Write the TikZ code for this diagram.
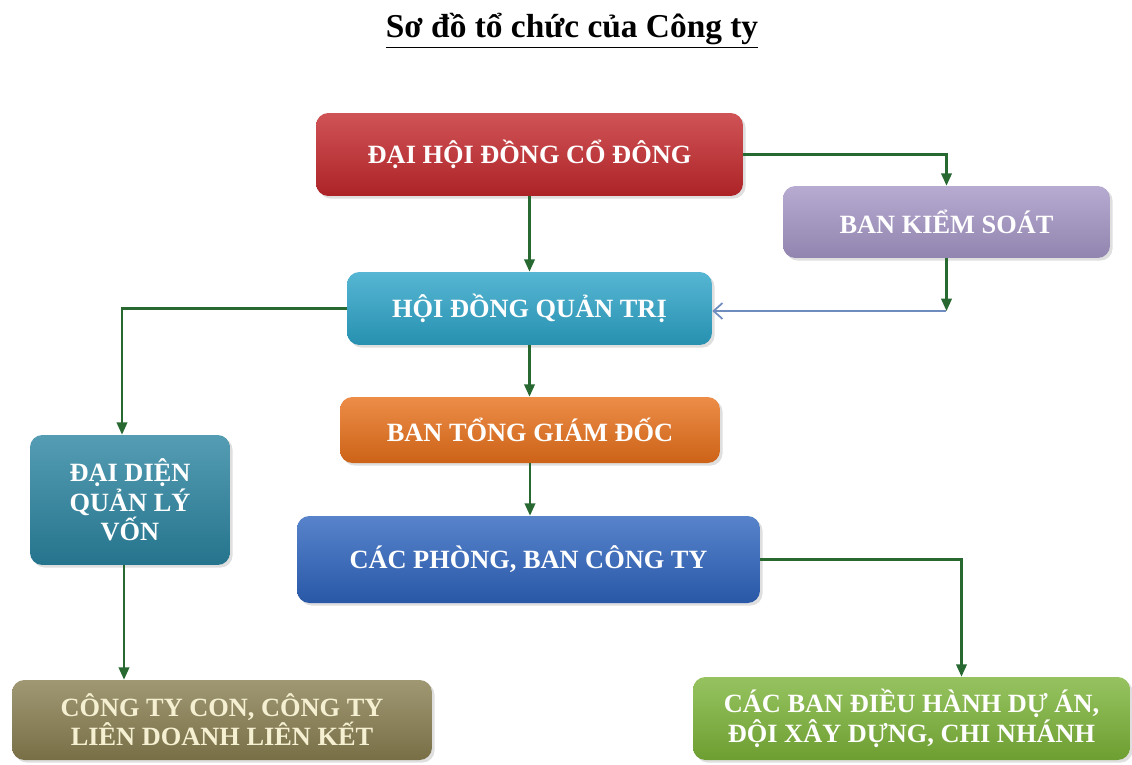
\documentclass[tikz,border=0pt]{standalone}
\usepackage{fontspec}
\setmainfont{Liberation Serif}
\usetikzlibrary{arrows.meta,shadows}
\definecolor{dhred}{RGB}{196,40,44}
\definecolor{ksviolet}{RGB}{165,150,198}
\definecolor{qtcyan}{RGB}{44,164,200}
\definecolor{tgorange}{RGB}{232,112,26}
\definecolor{vonteal}{RGB}{42,132,160}
\definecolor{pbblue}{RGB}{46,100,190}
\definecolor{ctolive}{RGB}{136,126,80}
\definecolor{dagreen}{RGB}{124,180,56}
\definecolor{arrowgreen}{RGB}{40,105,50}
\definecolor{linkblue}{RGB}{110,140,190}
\definecolor{cream}{RGB}{246,240,210}

\begin{document}
\begin{tikzpicture}[x=0.02cm,y=-0.02cm,
    box/.style={rounded corners=7pt, top color=#1!80!white, bottom color=#1!88!black,
        text=white, align=center, inner sep=2pt,
        font=\bfseries\fontsize{15}{15}\selectfont,
        drop shadow={opacity=0.25,shadow xshift=1.5pt,shadow yshift=-1.5pt}},
    link/.style={draw=arrowgreen, line width=1.2pt, -{Triangle[width=6pt,length=7pt]}},
    backlink/.style={draw=linkblue, line width=1pt, -{Straight Barb[width=9pt,length=5pt]}}]
    \useasboundingbox (0,0) rectangle (1132,764);
    % tieu de
    \node[font=\bfseries\fontsize{19}{22}\selectfont] (tieude) at (572,31) {\underline{Sơ đồ tổ chức của Công ty}};
    % cac khoi
    \node[box=dhred, minimum width=8.54cm, minimum height=1.66cm] (dhdcd) at (529.5,154.5) {ĐẠI HỘI ĐỒNG CỔ ĐÔNG};
    \node[box=ksviolet, minimum width=6.54cm, minimum height=1.44cm] (bks) at (946.5,222) {BAN KIỂM SOÁT};
    \node[box=qtcyan, minimum width=7.3cm, minimum height=1.46cm] (hdqt) at (529.5,308.5) {HỘI ĐỒNG QUẢN TRỊ};
    \node[box=tgorange, minimum width=7.6cm, minimum height=1.32cm] (btgd) at (530,430) {BAN TỔNG GIÁM ĐỐC};
    \node[box=vonteal, font=\bfseries\fontsize{15}{13.8}\selectfont, minimum width=4cm, minimum height=2.6cm] (ddqlv) at (130,500) {ĐẠI DIỆN\\QUẢN LÝ\\VỐN};
    \node[box=pbblue, minimum width=9.26cm, minimum height=1.74cm] (cpb) at (528.5,559.5) {CÁC PHÒNG, BAN CÔNG TY};
    \node[box=ctolive, text=cream, minimum width=8.4cm, minimum height=1.6cm] (ctc) at (222,720) {CÔNG TY CON, CÔNG TY\\LIÊN DOANH LIÊN KẾT};
    \node[box=dagreen, minimum width=8.74cm, minimum height=1.66cm] (cbdh) at (911.5,718.5) {CÁC BAN ĐIỀU HÀNH DỰ ÁN,\\ĐỘI XÂY DỰNG, CHI NHÁNH};
    % cac mui ten
    \coordinate (kq) at (946,311);
    \draw[link] (dhdcd.east) -| (bks.north);
    \draw[link] (dhdcd.south) -- (dhdcd.south |- hdqt.north);
    \draw[link] (bks.south) -- (bks.south |- kq);
    \draw[backlink] (kq) -- (kq -| hdqt.east);
    \draw[link] (hdqt.west) -| ([xshift=-0.16cm]ddqlv.north);
    \draw[link] (hdqt.south) -- (hdqt.south |- btgd.north);
    \draw[link] (btgd.south) -- (btgd.south |- cpb.north);
    \draw[link] (cpb.east) -| ([xshift=1cm]cbdh.north);
    \draw[link] ([xshift=-0.12cm]ddqlv.south) -- ([xshift=-0.12cm]ddqlv.south |- ctc.north);
\end{tikzpicture}
\end{document}
